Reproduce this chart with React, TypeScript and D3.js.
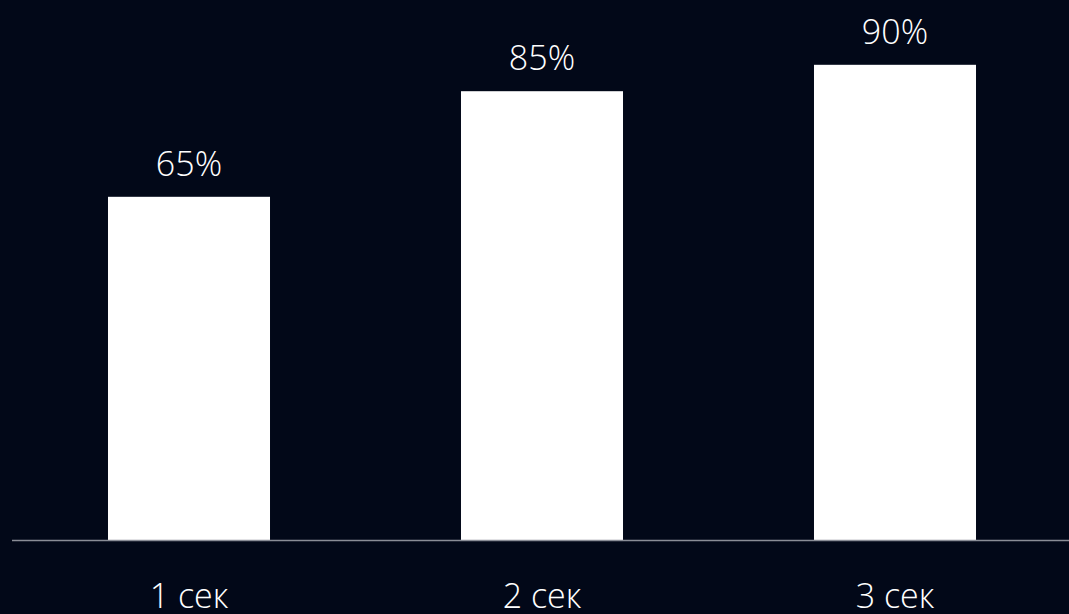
import React from "react";
import * as d3 from "d3";

const categories = ["1 сек", "2 сек", "3 сек"];
const values = [65, 85, 90];
const valueLabels = ["65%", "85%", "90%"];

const W = 1069;
const H = 614;

export default function App() {
  const x = d3.scaleBand<string>().domain(categories).range([12.5, 1071.5]).paddingInner(0.541).paddingOuter(0.2705);
  const y = d3.scaleLinear().domain([0, 100]).range([540, 12]);
  const font = "'Open Sans', 'Noto Sans', sans-serif";
  return (
    <div style={{ position: "fixed", left: 0, top: 0, width: W, height: H, background: "#020818" }}>
      <svg width={W} height={H} style={{ display: "block" }}>
        <rect x={0} y={0} width={W} height={H} fill="#020818" />
        {categories.map((c, i) => (
          <g key={c}>
            <rect x={x(c)} y={y(values[i])} width={x.bandwidth()} height={y(0) - y(values[i])} fill="#ffffff" />
            <text x={(x(c) as number) + x.bandwidth() / 2} y={y(values[i]) - 21} textAnchor="middle" fill="#ffffff" fontSize={34} fontWeight={300} fontFamily={font}>
              {valueLabels[i]}
            </text>
            <text x={(x(c) as number) + x.bandwidth() / 2} y={608} textAnchor="middle" fill="#ffffff" fontSize={34} fontWeight={300} fontFamily={font}>
              {c}
            </text>
          </g>
        ))}
        <line x1={12} x2={W} y1={y(0) + 0.5} y2={y(0) + 0.5} stroke="#8a8d96" strokeWidth={1.5} />
      </svg>
    </div>
  );
}
